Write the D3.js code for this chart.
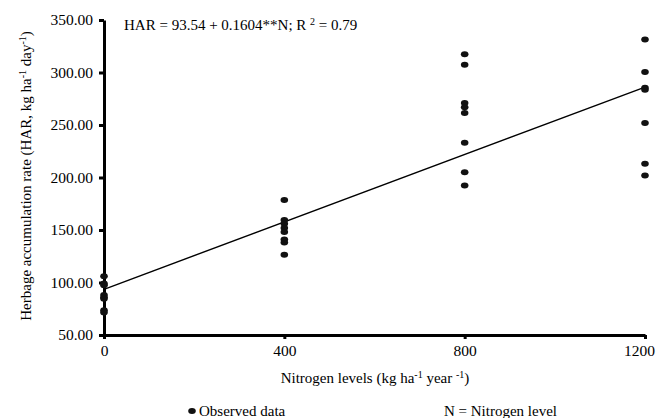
<!DOCTYPE html>
<html>
<head>
<meta charset="utf-8">
<script src="https://cdn.jsdelivr.net/npm/d3@7"></script>
<style>
  body { margin: 0; background: #fff; }
  svg text { font-family: "Liberation Serif", "Times New Roman", serif; fill: #000; }
</style>
</head>
<body>
<div id="chart"></div>
<script>
// nitrogen levels and observed HAR per level
const nLevels = [0, 400, 800, 1200];
const har0 = [106, 99, 97.5, 88, 86, 84.5, 73.5, 71.5];
const har400 = [178.5, 159.5, 156, 152, 148, 141, 138, 126.5];
const har800 = [317.5, 307.5, 271, 267, 261.5, 233, 205, 192.5];
const har1200 = [331.5, 300.5, 285.5, 283.5, 252, 213, 202];
const yTicks = [50, 100, 150, 200, 250, 300, 350];
const fitA = 93.54, fitB = 0.1604;

const observed = [har0, har400, har800, har1200]
  .flatMap((vals, i) => vals.map(v => ({ n: nLevels[i], har: v })));

const svg = d3.select("#chart").append("svg").attr("width", 656).attr("height", 418);

const x = d3.scaleLinear().domain([0, 1200]).range([104, 645]);
const y = d3.scaleLinear().domain([50, 350]).range([335, 20]);

// axes
const yAxis = svg.append("g").attr("transform", "translate(104,0)")
  .call(d3.axisLeft(y).tickValues(yTicks).tickFormat(d3.format(".2f")).tickSize(5).tickSizeOuter(0).tickPadding(6));
const xAxis = svg.append("g").attr("transform", "translate(0,335)")
  .call(d3.axisBottom(x).tickValues(nLevels).tickFormat(d3.format("d")).tickSize(4).tickSizeOuter(0).tickPadding(6));

[yAxis, xAxis].forEach(g => {
  g.attr("font-family", null);
  g.select(".domain").attr("stroke", "#000").attr("stroke-width", 3);
  g.selectAll(".tick line").attr("stroke", "#000").attr("stroke-width", 3);
  g.selectAll(".tick text").style("font-family", "Liberation Serif").style("font-size", "15.5px").attr("fill", "#000");
});
// keep the last label inside the window
xAxis.selectAll(".tick text").filter(d => d === 1200).attr("dx", -6);

// regression line
svg.append("line")
  .attr("x1", x(0)).attr("y1", y(fitA))
  .attr("x2", x(1200)).attr("y2", y(fitA + fitB * 1200))
  .attr("stroke", "#000").attr("stroke-width", 1.4);

// observed points
svg.selectAll(".pt")
  .data(observed)
  .enter().append("ellipse")
  .attr("class", "pt")
  .attr("cx", d => x(d.n))
  .attr("cy", d => y(d.har))
  .attr("rx", 3.8).attr("ry", 3)
  .attr("fill", "#111");

// equation
const eq = svg.append("text").attr("x", 124).attr("y", 30).style("font-size", "15px");
eq.append("tspan").text("HAR = 93.54 + 0.1604**N; R ");
eq.append("tspan").attr("dy", -5).style("font-size", "10px").text("2");
eq.append("tspan").attr("dy", 5).text(" = 0.79");

// y title
const yt = svg.append("text")
  .attr("transform", "translate(31,176) rotate(-90)")
  .attr("text-anchor", "middle")
  .style("font-size", "15px");
yt.append("tspan").text("Herbage accumulation rate (HAR, kg ha");
yt.append("tspan").attr("dy", -5).style("font-size", "10px").text("-1");
yt.append("tspan").attr("dy", 5).text(" day");
yt.append("tspan").attr("dy", -5).style("font-size", "10px").text("-1");
yt.append("tspan").attr("dy", 5).text(")");

// x title
const xt = svg.append("text").attr("x", 375).attr("y", 383).attr("text-anchor", "middle").style("font-size", "15px");
xt.append("tspan").text("Nitrogen levels (kg ha");
xt.append("tspan").attr("dy", -5).style("font-size", "10px").text("-1");
xt.append("tspan").attr("dy", 5).text(" year ");
xt.append("tspan").attr("dy", -5).style("font-size", "10px").text("-1");
xt.append("tspan").attr("dy", 5).text(")");

// legend
svg.append("ellipse").attr("cx", 192).attr("cy", 411).attr("rx", 3.8).attr("ry", 3).attr("fill", "#111");
svg.append("text").attr("x", 199).attr("y", 416).style("font-size", "15px").text("Observed data");
svg.append("text").attr("x", 444).attr("y", 416).style("font-size", "15px").text("N = Nitrogen level");
</script>
</body>
</html>
